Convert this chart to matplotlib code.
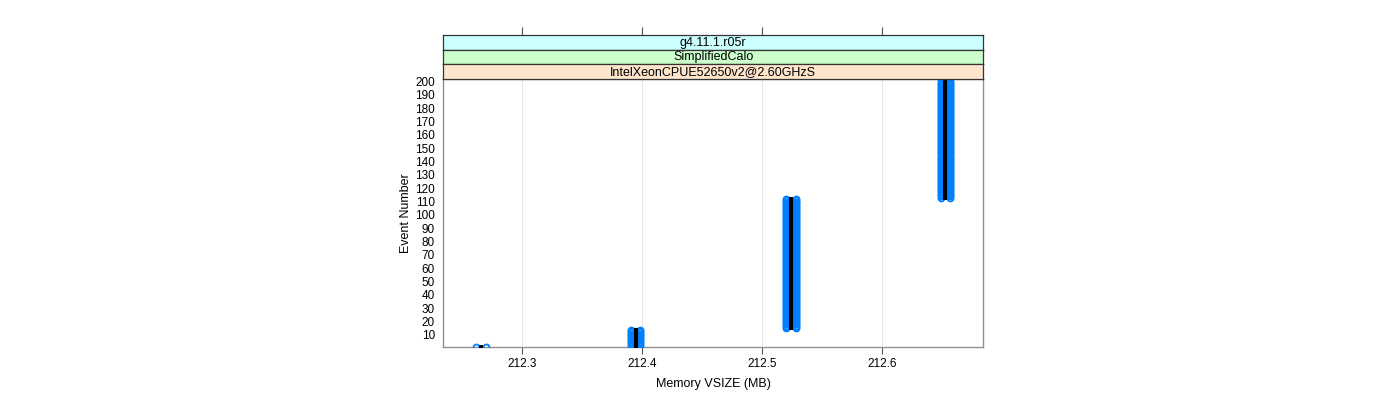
import numpy as np
import matplotlib
matplotlib.use("Agg")
import matplotlib.pyplot as plt

# ---- data ----
group_vsize = [212.2656, 212.3945, 212.5240, 212.6525]   # MB, centre of each group
left_vsize = [212.2618, 212.3907, 212.5202, 212.6487]    # left column of points
right_vsize = [212.2694, 212.3983, 212.5278, 212.6563]   # right column of points
first_event = [1, 2, 15, 113]
last_event = [1, 14, 112, 200]
x_ticks = [212.3, 212.4, 212.5, 212.6]
y_ticks = [10, 20, 30, 40, 50, 60, 70, 80, 90, 100, 110, 120, 130, 140,
           150, 160, 170, 180, 190, 200]
strip_labels = ["g4.11.1.r05r", "SimplifiedCalo", "IntelXeonCPUE52650v2@2.60GHzS"]
strip_colors = ["#ccffff", "#ccffcc", "#ffe5cc"]

plt.rcParams['font.family'] = ['Liberation Sans', 'DejaVu Sans']

W, H = 1400, 400
fig = plt.figure(figsize=(W / 100, H / 100), dpi=100)

def fx(p):
    return p / W

def fy(p):
    return 1 - p / H

ax_l, ax_r, ax_t, ax_b = 443.3, 983.3, 78.5, 347.0
ax = fig.add_axes([fx(ax_l), fy(ax_b), fx(ax_r - ax_l), (ax_b - ax_t) / H])
xlim = (212.2342, 212.6842)
ylim = (1.0, 202.2)

for gx, lx, rx, e0, e1 in zip(group_vsize, left_vsize, right_vsize, first_event, last_event):
    ev = np.arange(e0, e1 + 1)
    ax.plot(np.full(ev.shape, lx, dtype=float), ev, linestyle='none', marker='o',
            markersize=4.3, markerfacecolor='none', markeredgecolor='#0080ff',
            markeredgewidth=1.3, zorder=3)
    ax.plot(np.full(ev.shape, rx, dtype=float), ev, linestyle='none', marker='o',
            markersize=4.3, markerfacecolor='none', markeredgecolor='#0080ff',
            markeredgewidth=1.3, zorder=3)
    ax.plot(np.full(ev.shape, gx, dtype=float), ev, linestyle='none', marker='s',
            markersize=2.4, markerfacecolor='black', markeredgecolor='black',
            markeredgewidth=0, zorder=4)
    if e1 > e0:
        ax.plot([gx, gx], [e0, e1], color='black', linewidth=2.3,
                solid_capstyle='butt', zorder=4)

ax.set_xlim(*xlim)
ax.set_ylim(*ylim)
for xt in x_ticks:
    ax.axvline(xt, color='#e6e6e6', linewidth=0.8, zorder=0)

ax.set_xticks(x_ticks)
ax.set_xticklabels([f"{v:.1f}" for v in x_ticks])
ax.set_yticks(y_ticks)
ax.set_yticklabels([str(v) for v in y_ticks])
ax.tick_params(axis='x', direction='out', length=5, width=0.8, color='#555555',
               labelsize=8.5, pad=3)
ax.tick_params(axis='y', direction='out', length=0, labelsize=8.5, pad=6)
for s in ax.spines.values():
    s.set_color('#909090')
    s.set_linewidth(1.0)

ax.set_xlabel("Memory VSIZE (MB)", fontsize=9, labelpad=6)
ax.set_ylabel("Event Number", fontsize=9, labelpad=2)

# strips
strip_tops = [35.0, 49.5, 64.0]
strip_h = 14.5
for i, (lab, col, top) in enumerate(zip(strip_labels, strip_colors, strip_tops)):
    sax = fig.add_axes([fx(ax_l), fy(top + strip_h), fx(ax_r - ax_l), strip_h / H])
    sax.set_facecolor(col)
    sax.set_xlim(*xlim)
    sax.set_ylim(0, 1)
    sax.set_yticks([])
    for s in sax.spines.values():
        s.set_color('#333333')
        s.set_linewidth(0.9)
    sax.text(0.5, 0.45, lab, transform=sax.transAxes, ha='center', va='center',
             fontsize=9)
    if i == 0:
        sax.set_xticks(x_ticks)
        sax.tick_params(axis='x', which='both', bottom=False, labelbottom=False,
                        top=True, labeltop=False, direction='out', length=6,
                        width=0.8, color='#555555')
    else:
        sax.set_xticks([])

fig.savefig("out.png", dpi=100)
